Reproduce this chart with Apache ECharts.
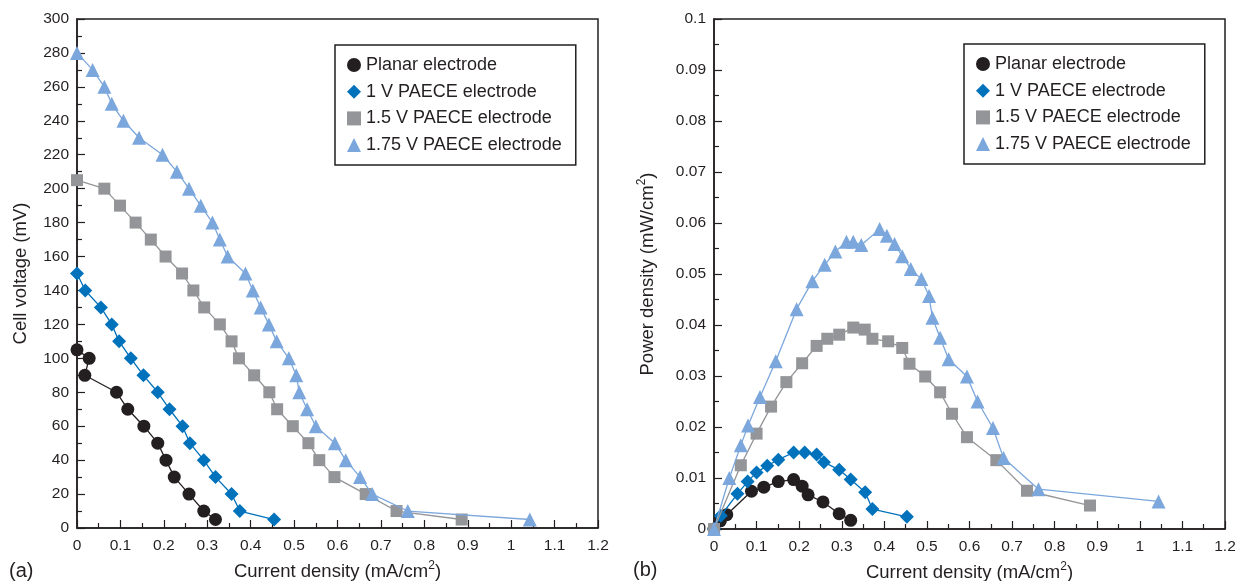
<!DOCTYPE html>
<html>
<head>
<meta charset="utf-8">
<script src="https://cdn.jsdelivr.net/npm/echarts@6/dist/echarts.min.js"></script>
<style>
  html, body { margin: 0; padding: 0; background: #fff; }
  #chart { width: 1236px; height: 581px; }
</style>
</head>
<body>
<div id="chart"></div>
<script>
// series names
const names = ['Planar electrode', '1 V PAECE electrode', '1.5 V PAECE electrode', '1.75 V PAECE electrode'];

// (a) current density (mA/cm2) vs cell voltage (mV)
const planarI = [0, 0.028, 0.018, 0.091, 0.117, 0.154, 0.186, 0.205, 0.224, 0.258, 0.292, 0.319];
const planarV = [105, 100, 90, 80, 70, 60, 50, 40, 30, 20, 10, 5];
const pae1I = [0, 0.019, 0.055, 0.080, 0.097, 0.124, 0.153, 0.186, 0.213, 0.243, 0.260, 0.292, 0.319, 0.356, 0.375, 0.454];
const pae1V = [150, 140, 130, 120, 110, 100, 90, 80, 70, 60, 50, 40, 30, 20, 10, 5];
const pae15I = [0, 0.063, 0.099, 0.135, 0.170, 0.204, 0.242, 0.268, 0.293, 0.329, 0.356, 0.373, 0.408, 0.443, 0.461, 0.497, 0.533, 0.558, 0.593, 0.665, 0.736, 0.886];
const pae15V = [205, 200, 190, 180, 170, 160, 150, 140, 130, 120, 110, 100, 90, 80, 70, 60, 50, 40, 30, 20, 10, 5];
const pae175I = [0, 0.036, 0.063, 0.080, 0.107, 0.143, 0.197, 0.230, 0.258, 0.285, 0.312, 0.329, 0.347, 0.388, 0.405, 0.423, 0.442, 0.460, 0.488, 0.505, 0.512, 0.530, 0.550, 0.594, 0.619, 0.652, 0.680, 0.762, 1.043];
const pae175V = [280, 270, 260, 250, 240, 230, 220, 210, 200, 190, 180, 170, 160, 150, 140, 130, 120, 110, 100, 90, 80, 70, 60, 50, 40, 30, 20, 10, 5];

// (b) current density (mA/cm2) vs power density (mW/cm2)
const planarPI = [0, 0.030, 0.015, 0.088, 0.117, 0.151, 0.187, 0.207, 0.221, 0.256, 0.294, 0.321];
const planarP = [0, 0.0028, 0.0016, 0.0074, 0.0082, 0.0093, 0.0097, 0.0084, 0.0067, 0.0053, 0.0030, 0.0017];
const pae1PI = [0, 0.016, 0.055, 0.079, 0.100, 0.125, 0.151, 0.187, 0.213, 0.241, 0.258, 0.294, 0.321, 0.355, 0.372, 0.453];
const pae1P = [0, 0.0026, 0.0069, 0.0093, 0.0111, 0.0124, 0.0136, 0.0150, 0.0150, 0.0146, 0.0131, 0.0116, 0.0097, 0.0072, 0.0039, 0.0024];
const pae15PI = [0, 0.063, 0.100, 0.134, 0.170, 0.207, 0.241, 0.266, 0.294, 0.327, 0.354, 0.372, 0.409, 0.442, 0.459, 0.496, 0.531, 0.559, 0.594, 0.663, 0.735, 0.883];
const pae15P = [0, 0.0125, 0.0187, 0.0240, 0.0288, 0.0325, 0.0359, 0.0373, 0.0381, 0.0395, 0.0391, 0.0373, 0.0368, 0.0355, 0.0324, 0.0299, 0.0268, 0.0226, 0.0180, 0.0135, 0.0075, 0.0046];
const pae175PI = [0, 0.036, 0.063, 0.080, 0.108, 0.145, 0.194, 0.231, 0.260, 0.285, 0.311, 0.327, 0.346, 0.389, 0.406, 0.424, 0.442, 0.462, 0.487, 0.505, 0.513, 0.531, 0.551, 0.594, 0.619, 0.655, 0.680, 0.762, 1.044];
const pae175P = [0, 0.0100, 0.0164, 0.0203, 0.0259, 0.0329, 0.0431, 0.0486, 0.0518, 0.0544, 0.0563, 0.0563, 0.0557, 0.0588, 0.0575, 0.0559, 0.0535, 0.0510, 0.0490, 0.0457, 0.0414, 0.0375, 0.0333, 0.0299, 0.0250, 0.0198, 0.0139, 0.0078, 0.0054];

const colors = ['#231f20', '#0072bc', '#939598', '#7ba7dc'];
const symbols = ['circle', 'diamond', 'rect', 'triangle'];
const sizes = [13, 14, 12, 14];
const font = 'Liberation Sans, Arial, sans-serif';
const ink = '#231f20';

const zip = (xs, ys) => xs.map((x, i) => [x, ys[i]]);

const chart = echarts.init(document.getElementById('chart'));

// 一条曲线
function mkSeries(i, idx, xs, ys) {
  return {
    name: names[i],
    type: 'line',
    xAxisIndex: idx,
    yAxisIndex: idx,
    data: zip(xs, ys),
    symbol: symbols[i],
    symbolSize: sizes[i],
    lineStyle: { color: colors[i], width: 1.3 },
    itemStyle: { color: colors[i] },
    animation: false,
    z: 2 + i
  };
}

const nameStyle = {
  fontFamily: font, fontSize: 18.5, color: ink,
  rich: { sup: { fontFamily: font, fontSize: 12, color: ink, padding: [0, 0, 11, 0] } }
};

function mkX(gridIndex) {
  return {
    type: 'value',
    gridIndex: gridIndex,
    min: 0,
    max: 1.2,
    interval: 0.1,
    name: 'Current density (mA/cm{sup|2})',
    nameLocation: 'middle',
    nameGap: 32,
    nameTextStyle: nameStyle,
    axisLine: { lineStyle: { color: ink, width: 1.5 } },
    axisTick: { inside: true, length: 8, lineStyle: { color: ink, width: 1.2 } },
    minorTick: { show: true, splitNumber: 2, length: 5, lineStyle: { color: ink, width: 1.2 } },
    axisLabel: { fontFamily: font, fontSize: 15.5, color: ink, margin: 10 },
    splitLine: { show: false }
  };
}

function mkY(gridIndex, opts) {
  return Object.assign({
    type: 'value',
    gridIndex: gridIndex,
    nameLocation: 'middle',
    nameRotate: 90,
    nameTextStyle: nameStyle,
    axisLine: { lineStyle: { color: ink, width: 1.5 } },
    axisTick: { inside: true, length: 8, lineStyle: { color: ink, width: 1.2 } },
    minorTick: { show: true, splitNumber: 2, length: 5, lineStyle: { color: ink, width: 1.2 } },
    axisLabel: { fontFamily: font, fontSize: 15.5, color: ink, margin: 8 },
    splitLine: { show: false }
  }, opts);
}

function mkLegend(left, top) {
  return {
    left: left,
    top: top,
    orient: 'vertical',
    data: names.map((n, i) => ({ name: n, icon: symbols[i] })),
    itemWidth: 14,
    itemHeight: 14,
    itemGap: 8.7,
    padding: [11, 14, 11, 12],
    borderColor: ink,
    borderWidth: 1.5,
    backgroundColor: '#fff',
    selectedMode: false,
    textStyle: { fontFamily: font, fontSize: 18, color: ink }
  };
}

const option = {
  backgroundColor: '#fff',
  animation: false,
  grid: [
    { left: 77, top: 19, width: 521, height: 509, outerBoundsMode: 'none', containLabel: false, show: true, borderColor: ink, borderWidth: 1.5 },
    { left: 714, top: 19, width: 511, height: 510, outerBoundsMode: 'none', containLabel: false, show: true, borderColor: ink, borderWidth: 1.5 }
  ],
  xAxis: [mkX(0), mkX(1)],
  yAxis: [
    mkY(0, { min: 0, max: 300, interval: 20, name: 'Cell voltage (mV)', nameGap: 47 }),
    mkY(1, { min: 0, max: 0.1, interval: 0.01, name: 'Power density (mW/cm{sup|2})', nameGap: 55 })
  ],
  legend: [mkLegend(335, 45), mkLegend(964, 44)],
  graphic: [
    { type: 'text', left: 9, top: 561, style: { text: '(a)', fontFamily: font, fontSize: 20, fill: ink } },
    { type: 'text', left: 633, top: 560, style: { text: '(b)', fontFamily: font, fontSize: 20, fill: ink } }
  ],
  series: [
    mkSeries(0, 0, planarI, planarV),
    mkSeries(1, 0, pae1I, pae1V),
    mkSeries(2, 0, pae15I, pae15V),
    mkSeries(3, 0, pae175I, pae175V),
    mkSeries(0, 1, planarPI, planarP),
    mkSeries(1, 1, pae1PI, pae1P),
    mkSeries(2, 1, pae15PI, pae15P),
    mkSeries(3, 1, pae175PI, pae175P)
  ]
};

chart.setOption(option);
</script>
</body>
</html>
